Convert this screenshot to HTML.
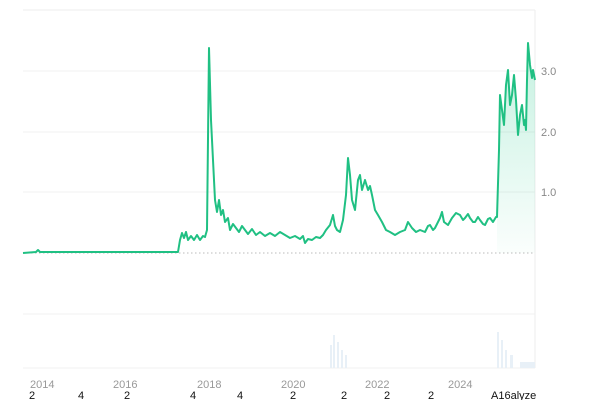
<!DOCTYPE html>
<html><head><style>
body{margin:0;background:#fff;width:600px;height:400px;overflow:hidden;font-family:"Liberation Sans",sans-serif}
svg{position:absolute;left:0;top:0}
</style></head><body>
<svg width="600" height="400" viewBox="0 0 600 400">
<defs><linearGradient id="g" x1="0" y1="0" x2="0" y2="1"><stop offset="0" stop-color="#16c784" stop-opacity="0.25"/><stop offset="1" stop-color="#16c784" stop-opacity="0.02"/></linearGradient></defs>
<line x1="23" y1="10" x2="535" y2="10" stroke="#eee"/>
<line x1="535" y1="10" x2="535" y2="368" stroke="#eee"/>
<g stroke="#f0f0f0"><line x1="23" y1="71" x2="535" y2="71"/><line x1="23" y1="132" x2="535" y2="132"/><line x1="23" y1="192" x2="535" y2="192"/><line x1="23" y1="314" x2="535" y2="314"/><line x1="23" y1="368" x2="535" y2="368"/></g>
<line x1="23" y1="253" x2="535" y2="253" stroke="#bbb" stroke-dasharray="1.5,2.5"/>
<g fill="#888" font-size="11"><text x="541" y="75">3.0</text><text x="541" y="136">2.0</text><text x="541" y="196">1.0</text></g>
<g fill="#e8f0f7"><rect x="330" y="345" width="2" height="23"/><rect x="333" y="335" width="2" height="33"/><rect x="337" y="342" width="2" height="26"/><rect x="341" y="350" width="2" height="18"/><rect x="345" y="355" width="2" height="13"/><rect x="497" y="332" width="2" height="36"/><rect x="501" y="340" width="2" height="28"/><rect x="505" y="350" width="2" height="18"/><rect x="510" y="355" width="3" height="13"/><rect x="520" y="362" width="15" height="6"/></g>
<path d="M497,253 L497,217 499,150 500,95 502,110 504,125 506,85 508,70 510,105 512,95 514,75 516,100 518,135 520,115 522,105 524,125 525,120 526,130 527,80 528,43 530,65 532,78 533,70 535,80 L535,253Z" fill="url(#g)"/>
<path d="M23,253 L36,252 38,250 40,252 80,252 178,252 180,240 182,233 184,238 186,232 188,240 191,236 194,240 197,235 200,240 203,236 205,237 207,230 209,48 211,120 213,160 215,200 217,212 219,200 221,215 223,210 225,222 228,218 230,230 233,224 236,228 239,232 242,226 245,230 248,234 252,229 256,235 260,232 265,236 270,233 275,236 280,232 285,235 290,238 295,236 300,239 303,236 305,243 308,239 312,240 316,237 320,238 323,235 326,230 330,225 333,215 335,226 337,230 340,232 343,220 346,195 348,158 350,175 352,200 355,210 358,180 360,175 362,190 365,180 368,190 370,186 372,195 375,210 378,215 382,222 386,230 390,232 395,235 400,232 405,230 408,222 412,228 416,232 420,230 425,232 428,226 430,225 433,230 435,228 438,222 440,218 442,212 444,222 448,225 452,218 456,213 460,215 463,220 465,218 468,214 470,218 473,222 475,222 478,217 480,220 483,224 485,225 488,219 490,218 493,222 496,217 497,217 499,150 500,95 502,110 504,125 506,85 508,70 510,105 512,95 514,75 516,100 518,135 520,115 522,105 524,125 525,120 526,130 527,80 528,43 530,65 532,78 533,70 535,80" fill="none" stroke="#20c083" stroke-width="2" stroke-linejoin="round"/>
<g fill="#999" font-size="11"><text x="30" y="388">2014</text><text x="113" y="388">2016</text><text x="197" y="388">2018</text><text x="281" y="388">2020</text><text x="365" y="388">2022</text><text x="448" y="388">2024</text></g>
<g fill="#111" font-size="11"><text x="29" y="399">2</text><text x="78" y="399">4</text><text x="124" y="399">2</text><text x="190" y="399">4</text><text x="237" y="399">4</text><text x="290" y="399">2</text><text x="341" y="399">2</text><text x="384" y="399">2</text><text x="428" y="399">2</text><text x="491" y="399">A16alyze</text></g>
</svg>
</body></html>
